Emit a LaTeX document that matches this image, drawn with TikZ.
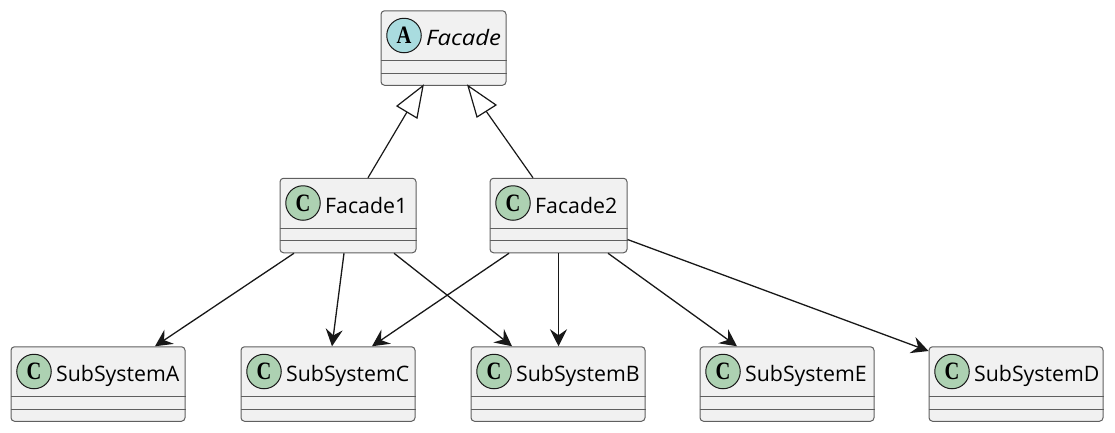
\documentclass[tikz,border=0pt]{standalone}
\usepackage{fontspec}
\usepackage{graphicx}
\setmainfont{Open Sans}
\usetikzlibrary{calc,arrows.meta}
\definecolor{boxfill}{HTML}{F1F1F1}
\definecolor{boxline}{HTML}{5F5F5F}
\definecolor{sepline}{HTML}{5F5F5F}
\definecolor{spotC}{HTML}{ADD1B2}
\definecolor{spotA}{HTML}{A9DCDF}
\definecolor{ink}{HTML}{181818}
\tikzset{
  x=1pt,y=-1pt,
  classbox/.style={draw=boxline,fill=boxfill,line width=1pt,rounded corners=3.5pt,minimum height=74.5pt,inner sep=0pt},
  spot/.style={circle,draw=ink,line width=1pt,minimum size=34.5pt,inner sep=0pt,font=\fontsize{25}{25}\selectfont\bfseries\fontspec{Liberation Serif}},
  label/.style={anchor=base west,inner sep=0pt,text=black,font=\fontsize{21.3}{21.3}\selectfont},
  sep/.style={draw=sepline,line width=1pt},
  dep/.style={draw=ink,line width=1.3pt,-{Stealth[length=17pt,width=17pt,inset=6pt]}},
  gen/.style={draw=ink,line width=1.2pt},
  genhead/.style={draw=ink,line width=1.2pt,fill=white,line join=miter},
}
% name, centre x, width, centre y, spot colour, spot letter, label
\newcommand{\classnode}[7]{%
  \node[classbox,minimum width=#3] (#1) at (#2,#4) {};
  \node[spot,fill=#5] (#1s) at ($(#1.west)+(23.5,-12.5)$) {\scalebox{0.82}[1]{#6}};
  \node[label] (#1t) at ($(#1.west)+(45.5,-2.5)$) {#7};
  \draw[sep] ($(#1.west)+(0,12.5)$) -- ($(#1.east)+(0,12.5)$);
  \draw[sep] ($(#1.west)+(0,25)$) -- ($(#1.east)+(0,25)$);
}
\begin{document}
\begin{tikzpicture}
\useasboundingbox (0,0) rectangle (1115,432);
\classnode{fa}{443.5}{125pt}{48}{spotA}{A}{\scalebox{1.12}[1]{\textit{Facade}}}
\classnode{fo}{348}{136pt}{215.5}{spotC}{C}{Facade1}
\classnode{ft}{558.5}{137pt}{215.5}{spotC}{C}{Facade2}
\classnode{sa}{98}{174pt}{384}{spotC}{C}{SubSystemA}
\classnode{sc}{328}{174pt}{384}{spotC}{C}{SubSystemC}
\classnode{sb}{558}{174pt}{384}{spotC}{C}{SubSystemB}
\classnode{se}{787}{174pt}{384}{spotC}{C}{SubSystemE}
\classnode{sd}{1016}{174pt}{384}{spotC}{C}{SubSystemD}
% generalisation
\coordinate (h1) at ($(fa.south)+(-20.5,0)$);
\coordinate (h2) at ($(fa.south)+(24.5,0)$);
\coordinate (b1a) at (397,106); \coordinate (b1b) at (417,118); \coordinate (b1m) at (407,112);
\coordinate (b2a) at (496,105); \coordinate (b2b) at (477,117); \coordinate (b2m) at (486,111);
\draw[gen] ($(fo.north)+(20,0)$) -- (b1m);
\draw[gen] ($(ft.north)+(-25.5,0)$) -- (b2m);
\draw[genhead] (h1) -- (b1a) -- (b1b) -- cycle;
\draw[genhead] (h2) -- (b2a) -- (b2b) -- cycle;
% dependencies
\draw[dep] ($(fo.south)+(-54,0)$) -- ($(sa.north)+(57,0)$);
\draw[dep] ($(fo.south)+(-4,0)$) -- ($(sc.north)+(4,0)$);
\draw[dep] ($(fo.south)+(46,0)$) -- ($(sb.north)+(-46,0)$);
\draw[dep] ($(ft.south)+(-49.5,0)$) -- ($(sc.north)+(44,0)$);
\draw[dep] (ft.south) -- ($(sb.north)+(0.5,0)$);
\draw[dep] ($(ft.south)+(49.5,0)$) -- ($(se.north)+(-50,0)$);
\draw[dep] ($(ft.east)+(0,24)$) -- ($(sd.west)+(0,-33)$);
\end{tikzpicture}
\end{document}
